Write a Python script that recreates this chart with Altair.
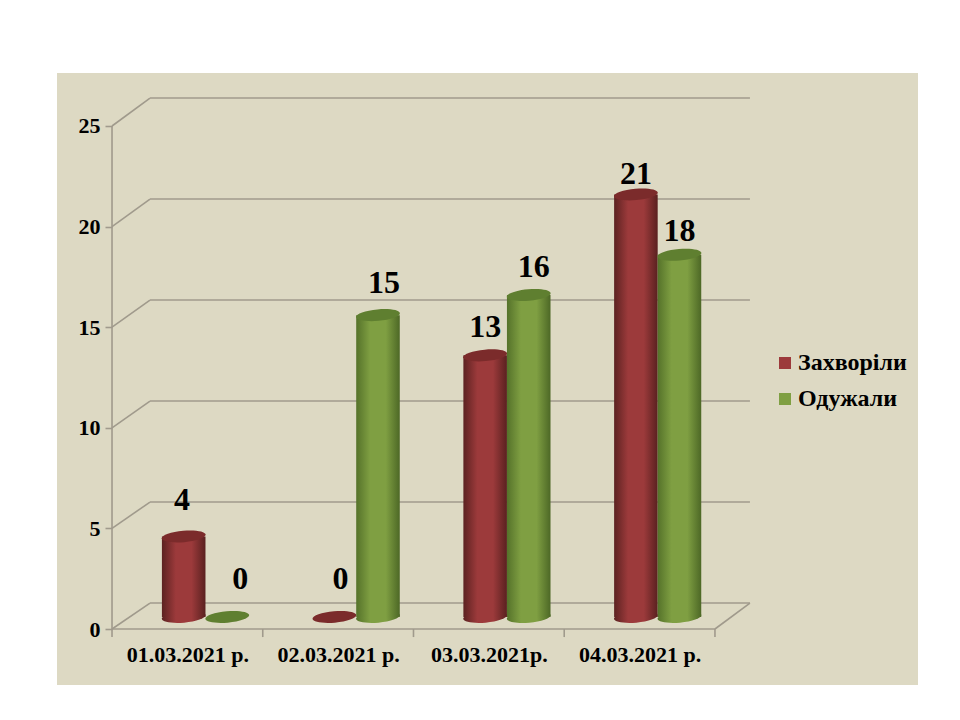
import json
import altair as alt
import pandas as pd

dates = ["01.03.2021 р.", "02.03.2021 р.", "03.03.2021р.", "04.03.2021 р."]
series_names = ["Захворіли", "Одужали"]
sick = [4, 0, 13, 21]
recovered = [0, 15, 16, 18]
y_ticks = [0, 5, 10, 15, 20, 25]
# manual placement of each value label relative to its cylinder top, in axis units
sick_label_lift = [1.8, 1.9, 1.4, 1.0]
recovered_label_lift = [1.9, 1.6, 1.4, 1.2]
sick_label_shift = [-0.012, 0.04, 0.0, 0.0]
recovered_label_shift = [0.086, 0.04, 0.033, 0.0]

FONT = "Liberation Serif"
BG = "#ddd9c3"
GRID = "#a09a8c"
RED, GREEN = "#9c3a3b", "#7f9f42"
RED_TOP, GREEN_TOP = "#7b2b2b", "#5f7f30"

# 3-D look: the floor recedes by these amounts (in axis units)
DEPTH_X, DEPTH_Y, BASE_X, BASE_Y = 0.252, 1.29, 0.62, 0.6
BACK_RIGHT = 4.232
BAR_W = 0.289
x_scale = alt.Scale(domain=[-0.365, 5.347], nice=False, zero=False)
y_scale = alt.Scale(domain=[-2.783, 27.634], nice=False, zero=False)


def grad(dark1, mid, dark2):
    return alt.Gradient(
        gradient="linear", x1=0, x2=1, y1=0, y2=0,
        stops=[
            alt.GradientStop(color=dark1, offset=0),
            alt.GradientStop(color=mid, offset=0.32),
            alt.GradientStop(color=mid, offset=0.68),
            alt.GradientStop(color=dark2, offset=1),
        ],
    )


rows = []
for i, d in enumerate(dates):
    for s, (vals, lift, shift, sign) in enumerate(
        [(sick, sick_label_lift, sick_label_shift, -1),
         (recovered, recovered_label_lift, recovered_label_shift, 1)]
    ):
        left = i + BASE_X + (0 if sign > 0 else -BAR_W)
        rows.append(dict(
            date=d, series=series_names[s], value=vals[i],
            x0=left, x1=left + BAR_W, xc=left + BAR_W / 2,
            label_x=left + BAR_W / 2 + shift[i],
            base=BASE_Y, top=vals[i] + BASE_Y, label_y=vals[i] + BASE_Y + lift[i],
        ))
bars = pd.DataFrame(rows)

X = lambda f: alt.X(f, type="quantitative", scale=x_scale, title=None)
Y = lambda f: alt.Y(f, type="quantitative", scale=y_scale, title=None)

frame = []
for t in y_ticks:
    back = t * 1.004 + DEPTH_Y
    frame.append(dict(x=0, x2=DEPTH_X, y=t, y2=back))
    frame.append(dict(x=DEPTH_X, x2=BACK_RIGHT, y=back, y2=back))
frame.append(dict(x=0, x2=0, y=0, y2=25))
frame.append(dict(x=0, x2=4, y=0, y2=0))
frame.append(dict(x=4, x2=BACK_RIGHT, y=0, y2=DEPTH_Y))
for i in range(5):
    frame.append(dict(x=i, x2=i, y=0, y2=-0.4))
frame = pd.DataFrame(frame)

label_map = json.dumps(dates, ensure_ascii=False)

frame_layer = alt.Chart(frame).mark_rule(color=GRID, strokeWidth=1.6).encode(
    x=alt.X("x:Q", scale=x_scale, title=None, axis=alt.Axis(
        values=[0.5, 1.5, 2.5, 3.5], ticks=False, domain=False, grid=False,
        offset=-56, labelPadding=15, labelFont=FONT, labelFontSize=22,
        labelFontWeight="bold", labelColor="#000000",
        labelExpr=f"{label_map}[floor(datum.value)]",
    )),
    x2="x2:Q",
    y=alt.Y("y:Q", scale=y_scale, title=None, axis=alt.Axis(
        values=y_ticks, domain=False, grid=False, ticks=True, tickSize=7,
        tickColor=GRID, tickWidth=1.6, offset=-55, labelPadding=5,
        labelFont=FONT, labelFontSize=22, labelFontWeight="bold",
        labelColor="#000000", labelBaseline="middle",
    )),
    y2="y2:Q",
)

# carries the legend; drawn at zero size
legend_layer = alt.Chart(bars).mark_square(size=0, opacity=1).encode(
    x=X("xc"), y=Y("base"),
    color=alt.Color(
        "series:N", title=None,
        scale=alt.Scale(domain=series_names, range=[RED, GREEN]),
        legend=alt.Legend(
            orient="none", legendX=716, legendY=278, symbolType="square",
            symbolSize=144, symbolStrokeWidth=0, symbolOpacity=1, rowPadding=12,
            labelFont=FONT, labelFontSize=24, labelFontWeight="bold",
            labelColor="#000000", labelOffset=1,
        ),
    ),
)

ELLIPSE = "M-1,0A1,0.26,0,1,1,1,0A1,0.26,0,1,1,-1,0Z"
ELLIPSE_SIZE = 1936


def cylinder(name, body, top):
    d = bars[bars.series == name]
    tall = d[d.value > 0]
    body_rect = alt.Chart(tall).mark_bar(fill=body, stroke=None).encode(
        x=X("x0"), x2="x1:Q", y=Y("base"), y2="top:Q"
    )
    bottom = alt.Chart(tall).mark_point(
        shape=ELLIPSE, size=ELLIPSE_SIZE, filled=True, fill=body,
        strokeWidth=0, opacity=1, angle=355,
    ).encode(x=X("xc"), y=Y("base"))
    cap = alt.Chart(d).mark_point(
        shape=ELLIPSE, size=ELLIPSE_SIZE, filled=True, fill=top,
        strokeWidth=0, opacity=1, angle=355,
    ).encode(x=X("xc"), y=Y("top"))
    return [bottom, body_rect, cap]


value_labels = alt.Chart(bars).mark_text(
    font=FONT, fontSize=32, fontWeight="bold", color="#000000",
    baseline="middle", align="center",
).encode(x=X("label_x"), y=Y("label_y"), text="value:Q")

layers = [frame_layer, legend_layer]
layers += cylinder(series_names[0], grad("#5c2221", RED, "#5a2120"), RED_TOP)
layers += cylinder(series_names[1], grad("#55722a", GREEN, "#4d6826"), GREEN_TOP)
layers.append(value_labels)

chart = (
    alt.layer(*layers)
    .properties(
        width=861, height=612, background="#ffffff",
        padding={"left": 49, "top": 65, "right": 0, "bottom": 0},
        autosize=alt.AutoSizeParams(type="none"),
    )
    .configure_view(fill=BG, strokeWidth=0)
)
chart.save("out.html", embed_options={"renderer": "svg", "actions": False})
